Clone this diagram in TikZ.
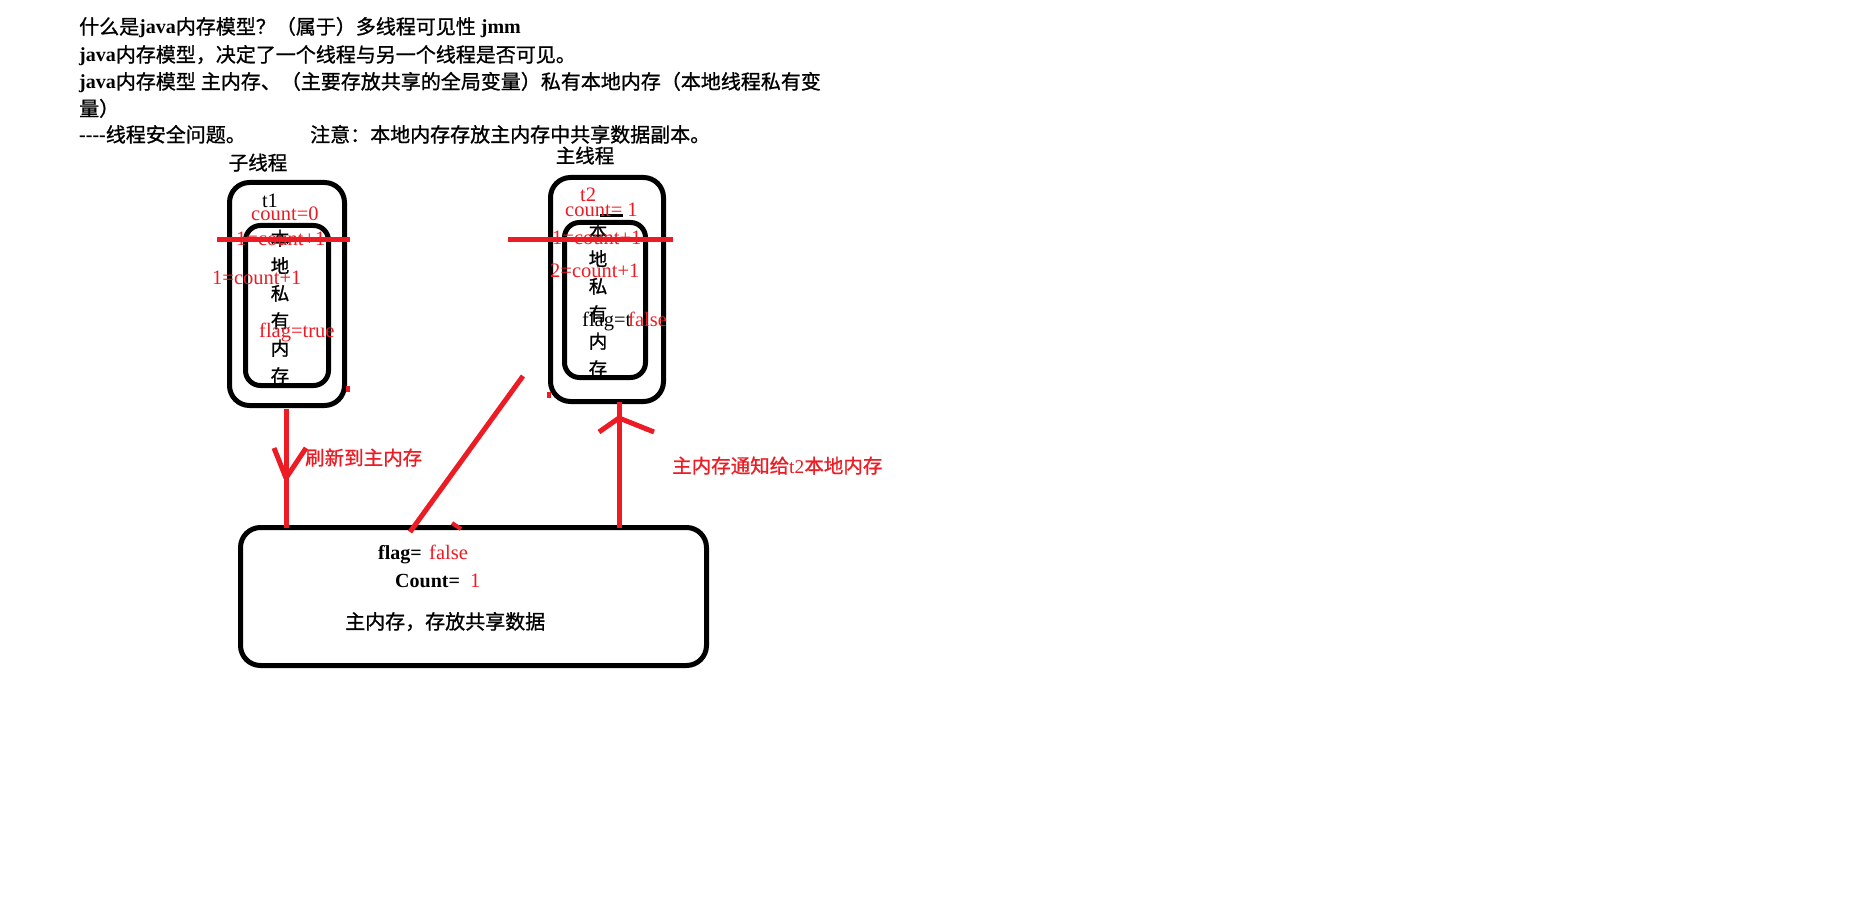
\documentclass[tikz,border=0pt]{standalone}
\usepackage{fontspec}
\setmainfont{Liberation Serif}
\newfontfamily\cjk[FakeBold=1]{Noto Sans CJK SC}
\newcommand\zh[1]{{\cjk\mdseries #1}}
\definecolor{rd}{HTML}{ED1C24}
\begin{document}
\begin{tikzpicture}[x=1pt,y=-1pt,
  box/.style={draw=black, line width=5pt, rounded corners=#1, inner sep=0pt},
  box/.default=18pt,
  rline/.style={draw=rd, line width=5pt},
  tick/.style={draw=rd, line width=4pt},
  toptxt/.style={anchor=base west, inner sep=0pt, font=\bfseries\fontsize{20}{20}\selectfont},
  lat/.style={anchor=base west, inner sep=0pt, font=\fontsize{20.5}{20.5}\selectfont},
  blat/.style={lat, font=\bfseries\fontsize{20}{20}\selectfont},
  rlat/.style={lat, text=rd},
  vt/.style={inner sep=0pt, align=center, font=\cjk\fontsize{18.5}{27.5}\selectfont},
  rlabel/.style={anchor=base west, inner sep=0pt, text=rd, font=\fontsize{19.5}{19.5}\selectfont},
  title/.style={anchor=base, inner sep=0pt, font=\cjk\fontsize{19.5}{19.5}\selectfont}]
\useasboundingbox (0,0) rectangle (1876,917);
\fill[white] (0,0) rectangle (1876,917);

% header text
\node[toptxt] (l1) at (79,34) {\zh{什么是}java\zh{内存模型？（属于）多线程可见性} jmm};
\node[toptxt] (l2) at (79,62) {java\zh{内存模型，决定了一个线程与另一个线程是否可见。}};
\node[toptxt] (l3) at (79,89) {java\zh{内存模型} \zh{主内存、（主要存放共享的全局变量）私有本地内存（本地线程私有变}};
\node[toptxt] (l4) at (79,116) {\zh{量）}};
\node[toptxt] (l5) at (79,142) {-\kern0pt-\kern0pt-\kern0pt-\zh{线程安全问题。}};
\node[toptxt] (l5b) at (310,142) {\zh{注意：本地内存存放主内存中共享数据副本。}};

% thread titles
\node[title] (tt1) at (258,170) {子线程};
\node[title] (tt2) at (585,163) {主线程};

% boxes
\node[box=20pt, minimum width=115pt, minimum height=223pt] (t1o) at (287,294) {};
\node[box=15pt, minimum width=83pt, minimum height=160pt] (t1i) at (287,305.5) {};
\node[box=20pt, minimum width=113pt, minimum height=224pt] (t2o) at (607,289.5) {};
\node[box=15pt, minimum width=81pt, minimum height=155pt] (t2i) at (605,300) {};
\node[box=20pt, minimum width=466pt, minimum height=138pt] (mm) at (473.5,596.5) {};

% vertical text
\node[vt] (t1v) at (280,307) {本\\地\\私\\有\\内\\存};
\node[vt] (t2v) at (598,300) {本\\地\\私\\有\\内\\存};

% black texts
\node[lat, anchor=base] (t1n) at (270,208) {t1};
\node[lat] (t2f) at (582,326) {flag=t};
\node[blat] (mf) at (378,559) {flag=};
\node[blat] (mc) at (395,587) {Count=};
\node[toptxt] (mtxt) at (345,629) {\zh{主内存，存放共享数据}};
\draw[black, line width=3pt] (600,216) -- (623,216);

% red texts
\node[rlat] (c0) at (251,221) {count=0};
\node[rlat] (s1) at (236,246) {1=count+1};
\node[rlat] (c1) at (212,285) {1=count+1};
\node[rlat] (ft) at (259,337) {flag=true};
\node[rlat] (t2n) at (580,202) {t2};
\node[rlat] (c2) at (565,217) {count= 1};
\node[rlat] (s2) at (552,245) {1=count+1};
\node[rlat] (c3) at (550,278) {2=count+1};
\node[rlat] (t2false) at (628,326) {false};
\node[rlat] (mfalse) at (429,559) {false};
\node[rlat] (mone) at (470,587) {1};

% red strike lines
\draw[rline] (217,240) -- (350,240);
\draw[rline] (508,240) -- (673,240);

% connectors
\coordinate (a1) at (286,409);
\coordinate (a2) at (286,528);
\draw[rline] (a1) -- (a2);
\coordinate (lh) at (286,478);
\draw[rline] (lh) -- ++(-12,-30) (lh) -- ++(20,-30);
\node[rlabel] (lab1) at (305,465) {\zh{刷新到主内存}};

\coordinate (b1) at (619,528);
\coordinate (b2) at (619,402);
\draw[rline] (b1) -- (b2);
\coordinate (rh) at (619,418);
\draw[rline] (rh) -- ++(-20,14) (rh) -- ++(35,14);
\node[rlabel] (lab2) at (672,473) {\zh{主内存通知给}t2\zh{本地内存}};

\coordinate (d1) at (523,376);
\coordinate (d2) at (410,532);
\draw[rline] (d1) -- (d2);

% small red marks
\draw[tick] (452,523) -- (461,529);
\draw[tick] (348,386) -- (348,392);
\draw[tick] (549,392) -- (549,398);
\end{tikzpicture}
\end{document}
